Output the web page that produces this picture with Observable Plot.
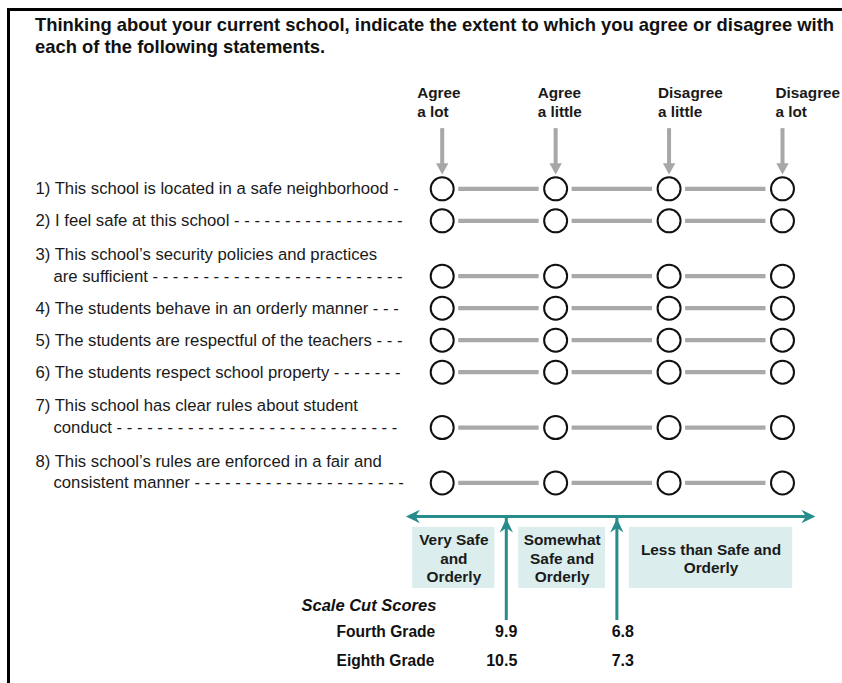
<!DOCTYPE html>
<html><head><meta charset="utf-8">
<script src="https://cdn.jsdelivr.net/npm/d3@7"></script>
<script src="https://cdn.jsdelivr.net/npm/@observablehq/plot@0.6"></script>
<style>
html,body{margin:0;padding:0;background:#fff;overflow:hidden;width:842px;height:683px;}
#frame{position:absolute;left:7px;top:8px;width:835px;height:675px;border-top:3px solid #000;border-left:3px solid #000;}
#title{font-family:"Liberation Sans",Arial,Helvetica,sans-serif;font-weight:bold;font-size:18.4px;line-height:22px;padding:3px 0 0 25px;height:44px;color:#111;white-space:nowrap;}
#chart svg{display:block;overflow:visible;}
</style></head><body>
<div id="frame">
<div id="title">Thinking about your current school, indicate the extent to which you agree or disagree with<br>each of the following statements.</div>
<div id="chart"></div>
</div>
<script>
// ---- data ----
const statements = [
  "1) This school is located in a safe neighborhood",
  "2) I feel safe at this school",
  "3) This school\u2019s security policies and practices\nare sufficient",
  "4) The students behave in an orderly manner",
  "5) The students are respectful of the teachers",
  "6) The students respect school property",
  "7) This school has clear rules about student\nconduct",
  "8) This school\u2019s rules are enforced in a fair and\nconsistent manner"
];
const responses = ["Agree\na lot", "Agree\na little", "Disagree\na little", "Disagree\na lot"];
const categories = ["Very Safe\nand\nOrderly", "Somewhat\nSafe and\nOrderly", "Less than Safe and\nOrderly"];
const cutPositions = [0.565, 1.54];          // where the cut scores fall on the response scale
const grades = ["Fourth Grade", "Eighth Grade"];
const fourthGradeCuts = ["9.9", "6.8"];
const eighthGradeCuts = ["10.5", "7.3"];
const scaleTitle = "Scale Cut Scores";

// ---- layout helpers ----
const FONT = "'Liberation Sans', Arial, Helvetica, sans-serif";
const LABEL_SIZE = 16.7;
const EXTRA_LINE = 0.73;   // extra row units per additional text line
const LINE_STEP = 0.672;   // row units between wrapped label lines
const TEAL = "#278c8c", GRAY = "#a7a7a7", BOXFILL = "#dbeeed";
const HEADER_DX = [-25, -18, -11, -7];

const canvas = document.createElement("canvas");
const ctx = canvas.getContext("2d");
ctx.font = `${LABEL_SIZE}px 'Liberation Sans', Arial`;
const mw = s => ctx.measureText(s).width;

let acc = 0;
const rows = statements.map((s, i) => {
  const lines = s.split("\n");
  acc += (i === 0 ? 0 : 1) + EXTRA_LINE * (lines.length - 1);
  return {s, lines, y: acc};
});

const LEFT = 25, INDENT = 43, RIGHT_LIMIT = 395;
const labelLines = rows.flatMap(r => r.lines.map((t, j) => {
  const start = j === 0 ? LEFT : INDENT;
  let text = t;
  if (j === r.lines.length - 1) {
    while (start + mw(text + " -") <= RIGHT_LIMIT) text += " -";
  }
  return {text, y: r.y - (r.lines.length - 1 - j) * LINE_STEP, cont: j > 0};
}));

const dots = rows.flatMap(r => responses.map((_, j) => ({x: j, y: r.y})));
const links = rows.flatMap(r => [0, 1, 2].map(j => ({x1: j, x2: j + 1, y: r.y})));
const heads = responses.map((t, j) => ({x: j, t}));

const lastY = rows[rows.length - 1].y;
const yAxisLine = lastY + 1.05, yBoxTop = lastY + 1.39, yBoxBot = lastY + 3.30;
const yCutBottom = lastY + 4.05, yScaleTitle = lastY + 3.83;
const yGrade = [lastY + 4.67, lastY + 5.55];
const xStart = -0.32, xEnd = 3.29;

const edges = [xStart, ...cutPositions, xEnd];
const boxes = categories.map((c, i) => {
  const x1 = edges[i] + (i === 0 ? 0.06 : 0.11);
  const x2 = edges[i + 1] - (i === categories.length - 1 ? 0.2 : 0.1);
  return {c, x1, x2, xm: (x1 + x2) / 2};
});

// custom symbols: tip at origin
const downHead = {draw(c, size) { const r = Math.sqrt(size / Math.PI); c.moveTo(0, 0); c.lineTo(-r, -1.8 * r); c.lineTo(r, -1.8 * r); c.closePath(); }};
const rightHead = {draw(c, size) { const r = Math.sqrt(size / Math.PI); const L = 2 * r, W = 0.95 * r; c.moveTo(0, 0); c.lineTo(-L, -W); c.lineTo(-0.68 * L, 0); c.lineTo(-L, W); c.closePath(); }};

const gradeValues = [fourthGradeCuts, eighthGradeCuts];
const gradeText = grades.map((g, i) => ({g, y: yGrade[i], v: gradeValues[i]}));

const plot = Plot.plot({
  width: 832, height: 625, margin: 0,
  x: {domain: [0, 3], range: [431.7, 772], axis: null},
  y: {domain: [0, 9.19], range: [130.3, 424.4], axis: null},
  style: {fontFamily: FONT, color: "#1a1a1a", background: "transparent"},
  marks: [
    // header labels + gray arrows
    ...heads.map((h, j) => Plot.text([h], {x: "x", y: () => -2.72, text: "t", textAnchor: "start", lineAnchor: "middle", lineHeight: 1.24,
      dx: HEADER_DX[j], fontSize: 15.3, fontWeight: "bold", fill: "#1a1a1a"})),
    Plot.ruleX(heads, {x: "x", y1: () => -1.88, y2: () => -0.75, stroke: GRAY, strokeWidth: 4}),
    Plot.dot(heads, {x: "x", y: () => -0.45, symbol: downHead, r: 6.2, fill: GRAY, stroke: null}),
    // statement labels
    Plot.text(labelLines, {filter: d => !d.cont, y: "y", text: "text", frameAnchor: "left", dx: LEFT, textAnchor: "start", lineAnchor: "middle", fontSize: LABEL_SIZE, fill: "#1a1a1a"}),
    Plot.text(labelLines, {filter: d => d.cont, y: "y", text: "text", frameAnchor: "left", dx: INDENT, textAnchor: "start", lineAnchor: "middle", fontSize: LABEL_SIZE, fill: "#1a1a1a"}),
    // connectors + response circles
    Plot.ruleY(links, {x1: "x1", x2: "x2", y: "y", insetLeft: 16.5, insetRight: 16.5, stroke: "#a9a9a9", strokeWidth: 4.2}),
    Plot.dot(dots, {x: "x", y: "y", r: 11.5, fill: "white", stroke: "#111", strokeWidth: 2}),
    // teal scale line with arrowheads
    Plot.ruleY([0], {x1: () => xStart, x2: () => xEnd, y: () => yAxisLine, insetLeft: 8, insetRight: 8, stroke: TEAL, strokeWidth: 3}),
    Plot.dot([xStart, xEnd], {x: d => d, y: () => yAxisLine, symbol: rightHead, r: 7, rotate: d => d === xStart ? 180 : 0, fill: TEAL, stroke: null}),
    // category boxes
    Plot.rect(boxes, {x1: "x1", x2: "x2", y1: () => yBoxTop, y2: () => yBoxBot, fill: BOXFILL}),
    Plot.text(boxes, {x: "xm", y: () => (yBoxTop + yBoxBot) / 2, text: "c", textAnchor: "middle", lineAnchor: "middle", lineHeight: 1.2, fontSize: 15.4, fontWeight: "bold", fill: "#1a1a1a"}),
    // cut arrows
    Plot.ruleX(cutPositions, {x: d => d, y1: () => yCutBottom, y2: () => yAxisLine + 0.06, insetTop: 8, stroke: TEAL, strokeWidth: 3}),
    Plot.dot(cutPositions, {x: d => d, y: () => yAxisLine + 0.06, symbol: rightHead, r: 7, rotate: -90, fill: TEAL, stroke: null}),
    // cut scores
    Plot.text([scaleTitle], {text: d => d, y: () => yScaleTitle, frameAnchor: "left", dx: 291, textAnchor: "start", lineAnchor: "middle", fontSize: 16.5, fontWeight: "bold", fontStyle: "italic", fill: "#111"}),
    Plot.text(gradeText, {text: "g", y: "y", frameAnchor: "left", dx: 326, textAnchor: "start", lineAnchor: "middle", fontSize: 15.6, fontWeight: "bold", fill: "#111"}),
    Plot.text(gradeText, {text: d => d.v[0], x: () => cutPositions[0], y: "y", dx: 11, textAnchor: "end", lineAnchor: "middle", fontSize: 16, fontWeight: "bold", fill: "#111"}),
    Plot.text(gradeText, {text: d => d.v[1], x: () => cutPositions[1], y: "y", dx: 17, textAnchor: "end", lineAnchor: "middle", fontSize: 16, fontWeight: "bold", fill: "#111"})
  ]
});

document.getElementById("chart").appendChild(plot);
</script>
</body></html>
